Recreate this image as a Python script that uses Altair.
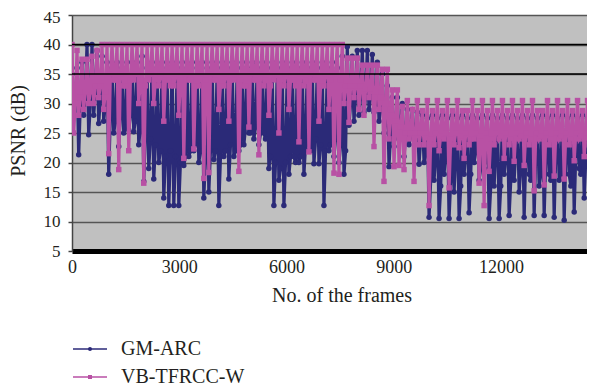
import altair as alt
import pandas as pd

FONT = "Liberation Serif"
NAVY = "#2b2a78"
PINK = "#b851a4"

series_names = ["GM-ARC", "VB-TFRCC-W"]
x_ticks = [0, 3000, 6000, 9000, 12000]
y_ticks = [5, 10, 15, 20, 25, 30, 35, 40, 45]
dark_grid = [35, 40]
bin_step = 140  # frames per sampled bin (high, low and body readings per bin)

# GM-ARC: upper reading, lowest reading and body-bottom reading of each 140-frame bin
gm_hi = [35, 36, 37, 40, 40, 39, 38,
         37, 36, 37, 36, 37, 37, 37, 38, 36, 37, 36, 37, 36, 37, 36, 37,
         36, 37, 36, 37, 36, 37, 36, 37, 36, 37, 36, 37, 36, 37, 36, 37,
         36, 37, 36, 37, 36, 37, 36, 37, 36, 37, 36, 37, 36, 37, 36, 38,
         39.6, 38, 39, 39, 39, 38.3, 37, 35,
         33, 31, 31, 30, 29, 29, 28.5,
         28, 27.5, 28, 27.5, 28, 27.5, 28, 27.5, 28, 27.5, 28, 27.5, 28, 27.5,
         28, 27.5, 28, 27.5, 28, 27.5, 28, 27.5, 28, 27.5, 28, 27.5, 28, 27.5,
         28, 27.5, 28, 27.5, 28, 27.5, 28]
gm_lo = [30, 21.3, 28, 24.7, 28, 26.6, 27,
         18, 25, 22.7, 25, 25.5, 25.2, 23, 16.8, 19, 17.2, 20, 14, 12.7, 12.7,
         12.7, 19.5, 21, 22, 20, 14, 15, 20.5, 12.7, 21, 17.2, 21, 22, 23,
         25, 24, 23, 25, 19, 12.7, 17, 12.7, 18, 21, 20, 18, 22, 19.8, 19.8,
         12.7, 22, 21, 20, 18,
         26.3, 27, 28, 28.5, 29, 28.5, 27, 25,
         19.3, 22.7, 24, 21, 23, 24, 19.7,
         20, 10.7, 17, 10.5, 18, 10.5, 15, 10.5, 18, 11.5, 20, 17, 19, 10.5,
         16, 10.5, 18, 11, 17, 15, 10.7, 18, 11, 16, 11, 18, 10.7, 17, 10.2,
         18, 11.6, 19, 14, 20, 22]
gm_mid = [31, 30, 31, 30, 32, 31, 30,
          28, 27, 28, 26, 28, 27, 26, 25, 24,
          23, 22, 21, 22, 21, 20, 21, 22, 23, 22, 21, 22,
          22, 21, 22, 23, 22, 23,
          26, 25, 26, 25, 24,
          21, 20, 19, 20, 21, 20, 21,
          23, 22, 24, 23, 22, 23, 24, 23, 22,
          30, 31, 31, 31, 31, 30, 29, 27,
          25, 26, 26, 25, 25, 25, 24,
          22, 17, 21, 16, 22, 17, 21, 16, 22, 18, 22, 19, 21, 16, 22, 16, 21, 17,
          22, 19, 21, 17, 22, 18, 21, 17, 22, 18, 21, 16, 22, 18, 21, 19, 22]

# VB-TFRCC-W: upper reading, lowest reading and body-bottom reading of each 140-frame bin
vb_hi = [40, 39, 37.5, 37.5, 38, 39, 40,
         40, 40, 40, 40, 40, 40, 40, 40, 40, 40, 40, 40, 40, 40, 40, 40,
         40, 40, 40, 40, 40, 40, 40, 40, 40, 40, 40, 40, 40, 40, 40, 40,
         40, 40, 40, 40, 40, 40, 40, 40, 40, 40, 40, 40, 40, 40, 40, 40,
         37.7, 37.7, 37.7, 36.5, 36.5, 36.5, 36.5, 35.8,
         35.8, 32.3, 32.3, 29.5, 30.5, 29, 30.5,
         28.8, 30.5, 28.8, 30.5, 28.8, 30.5, 28.8, 30.5, 28.8, 28.8, 30.5, 28.8,
         30.5, 28.8, 30.5, 28.8, 30.5, 28.8, 30.5, 28.8, 30.5, 28.8, 30.5, 28.8,
         28.8, 30.5, 28.8, 30.5, 28.8, 30.5, 28.8, 30.5, 28.8, 30.5, 28.8]
vb_lo = [25, 28, 29, 30, 30, 31, 29,
         21.5, 34, 18.8, 33, 22, 34, 30, 16.5, 34, 30, 33, 27, 34, 33, 28,
         20.7, 34, 22.3, 33, 17.3, 18.3, 34, 29, 33, 27, 34, 18.5, 33, 26,
         34, 21.3, 33, 28, 34, 25, 33, 29, 34, 23.5, 33, 21.8, 34, 27, 33,
         29, 18.2, 18, 30,
         26.8, 31, 29, 28, 31, 22.7, 29, 16.8,
         24, 19.3, 19.5, 18.8, 24, 16.8, 23,
         23, 12.7, 23, 22, 24, 15.7, 23, 22.5, 20.7, 23, 24, 16.5, 12.7, 18.5,
         23, 24, 20.7, 23, 20.2, 24, 19.5, 23, 15.2, 24, 16.2, 23, 17.7, 24,
         17.2, 23, 20.3, 24, 21, 23, 24.7]
vb_mid = [30, 31, 32, 32, 33, 33, 32,
          35, 34, 35, 33, 34, 35, 34, 33, 35, 34, 35, 34,
          33, 35, 34, 35, 34, 33, 35, 34, 35, 34, 33, 35,
          34, 35, 34, 33, 35, 34, 35, 34, 33, 35, 34, 35,
          34, 33, 35, 34, 35, 34, 33, 35, 34, 35, 34, 33,
          33, 33, 33, 32.5, 32.5, 32, 31, 30,
          29, 27, 26, 25, 25, 25, 25,
          25, 24, 25, 24.5, 25, 24, 25, 24.5, 25, 24, 25, 24.5, 25, 24, 25, 24.5,
          25, 24, 25, 24.5, 25, 24, 25, 24.5, 25, 24, 25, 24.5, 25, 24, 25, 24.5,
          25, 24, 25]

for arr in (gm_hi, gm_lo, gm_mid, vb_hi, vb_lo, vb_mid):
    assert len(arr) == 105, len(arr)


def build(name, hi, lo, mid):
    rows = []
    for i, (h, l, m) in enumerate(zip(hi, lo, mid)):
        f = i * bin_step
        rows.append({"series": name, "frame": f, "psnr": h, "k": 3 * i})
        rows.append({"series": name, "frame": f + 47, "psnr": l, "k": 3 * i + 1})
        rows.append({"series": name, "frame": f + 93, "psnr": m, "k": 3 * i + 2})
    return pd.DataFrame(rows)


gm_df = build(series_names[0], gm_hi, gm_lo, gm_mid)
vb_df = build(series_names[1], vb_hi, vb_lo, vb_mid)

x_enc = alt.X(
    "frame:Q",
    scale=alt.Scale(domain=[0, 14405], nice=False, zero=False),
    axis=alt.Axis(values=x_ticks, title=None, grid=False, ticks=False,
                  domainColor="#000000", domainWidth=5, format="d",
                  labelFont=FONT, labelFontSize=18, labelColor="#231f20",
                  labelPadding=7, labelFlush=False, labelOverlap=False),
)
y_scale = alt.Scale(domain=[5, 45], nice=False, zero=False)
y_axis = alt.Axis(values=y_ticks, title=None, grid=True, gridColor="#555555",
                  gridWidth=1.5, tickSize=4, tickColor="#444444", tickWidth=1.5,
                  domainColor="#444444", domainWidth=1.5, format="d",
                  labelFont=FONT, labelFontSize=17, labelColor="#231f20",
                  labelOffset={"condition": {"test": "datum.value == 45", "value": 2}, "value": 0},
                  labelPadding=8, labelOverlap=False)
y_enc = alt.Y("psnr:Q", scale=y_scale, axis=y_axis)

gm_line = alt.Chart(gm_df).mark_line(
    color=NAVY, strokeWidth=3.2, clip=True,
    point=alt.OverlayMarkDef(shape="circle", size=30, filled=True, color=NAVY, opacity=1),
).encode(x=x_enc, y=y_enc, order="k:Q")

vb_line = alt.Chart(vb_df).mark_line(
    color=PINK, strokeWidth=3.2, clip=True,
    point=alt.OverlayMarkDef(shape="square", size=30, filled=True, color=PINK, opacity=1),
).encode(x=x_enc, y=y_enc, order="k:Q")

dark_rules = alt.Chart(pd.DataFrame({"psnr": dark_grid})).mark_rule(
    color="#000000", strokeWidth=1.5
).encode(y=y_enc)

y_title = alt.Chart(pd.DataFrame({"t": ["PSNR (dB)"]})).mark_text(
    font=FONT, fontSize=20, color="#231f20", angle=270, align="center", baseline="middle"
).encode(x=alt.value(-53), y=alt.value(116), text="t:N")

x_title = alt.Chart(pd.DataFrame({"t": ["No. of the frames"]})).mark_text(
    font=FONT, fontSize=20, color="#231f20", align="center", baseline="middle"
).encode(x=alt.value(270), y=alt.value(281), text="t:N")

legend_layers = []
for name, color, shape, ypos in [(series_names[0], NAVY, "circle", 334),
                                 (series_names[1], PINK, "square", 362)]:
    d = pd.DataFrame({"name": [name]})
    legend_layers.append(alt.Chart(d).mark_rule(color=color, strokeWidth=1.6).encode(
        x=alt.value(1), x2=alt.value(35), y=alt.value(ypos)))
    legend_layers.append(alt.Chart(d).mark_point(shape=shape, filled=True, color=color, size=16, opacity=1).encode(
        x=alt.value(18), y=alt.value(ypos)))
    legend_layers.append(alt.Chart(d).mark_text(
        font=FONT, fontSize=20, color="#231f20", align="left", baseline="middle").encode(
        x=alt.value(49), y=alt.value(ypos), text="name:N"))

chart = alt.layer(gm_line, vb_line, dark_rules, y_title, x_title, *legend_layers).properties(
    width=515, height=236,
    padding={"left": 64, "top": 7, "right": 0, "bottom": 138},
    autosize=alt.AutoSizeParams(type="none"),
).configure_view(fill="#c0c0c0", stroke=None)

chart.save("out.html", embed_options={"renderer": "svg", "actions": False})
